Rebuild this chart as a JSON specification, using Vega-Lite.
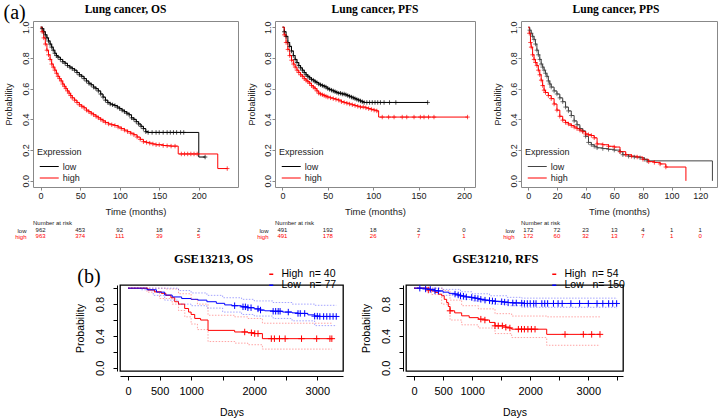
{
"$schema": "https://vega.github.io/schema/vega-lite/v6.json",
"background": "white",
"padding": {"left": 3, "top": 2, "right": 0, "bottom": 0},
"config": {
  "font": "Liberation Sans",
  "axis": {"grid": false, "labelFont": "Liberation Sans", "titleFont": "Liberation Sans", "titleFontWeight": "normal"},
  "legend": {"labelFont": "Liberation Sans", "titleFont": "Liberation Sans"},
  "title": {"font": "Liberation Serif", "fontWeight": "bold", "color": "black"},
  "text": {"font": "Liberation Sans"}
},
"datasets": {
  "os": [
    {"t":0,"p":1,"g":"low","c":0},{"t":2,"p":0.99,"g":"low","c":1},{"t":4,"p":0.97,"g":"low","c":1},{"t":6,"p":0.95,"g":"low","c":1},{"t":8,"p":0.93,"g":"low","c":1},{"t":10,"p":0.91,"g":"low","c":1},{"t":12,"p":0.89,"g":"low","c":1},{"t":14,"p":0.87,"g":"low","c":1},{"t":16,"p":0.85,"g":"low","c":1},{"t":18,"p":0.83,"g":"low","c":1},{"t":20,"p":0.815,"g":"low","c":1},{"t":22,"p":0.805,"g":"low","c":1},{"t":25,"p":0.79,"g":"low","c":1},{"t":28,"p":0.775,"g":"low","c":1},{"t":31,"p":0.765,"g":"low","c":1},{"t":34,"p":0.75,"g":"low","c":1},{"t":37,"p":0.74,"g":"low","c":1},{"t":40,"p":0.73,"g":"low","c":1},{"t":43,"p":0.72,"g":"low","c":1},{"t":46,"p":0.705,"g":"low","c":1},{"t":49,"p":0.69,"g":"low","c":1},{"t":52,"p":0.68,"g":"low","c":1},{"t":55,"p":0.665,"g":"low","c":1},{"t":58,"p":0.65,"g":"low","c":1},{"t":61,"p":0.635,"g":"low","c":1},{"t":64,"p":0.625,"g":"low","c":1},{"t":67,"p":0.61,"g":"low","c":1},{"t":70,"p":0.6,"g":"low","c":1},{"t":73,"p":0.585,"g":"low","c":1},{"t":76,"p":0.565,"g":"low","c":1},{"t":79,"p":0.545,"g":"low","c":1},{"t":82,"p":0.525,"g":"low","c":1},{"t":85,"p":0.51,"g":"low","c":1},{"t":88,"p":0.5,"g":"low","c":1},{"t":91,"p":0.495,"g":"low","c":1},{"t":94,"p":0.49,"g":"low","c":1},{"t":97,"p":0.48,"g":"low","c":1},{"t":100,"p":0.47,"g":"low","c":1},{"t":103,"p":0.46,"g":"low","c":1},{"t":106,"p":0.45,"g":"low","c":1},{"t":109,"p":0.44,"g":"low","c":1},{"t":112,"p":0.43,"g":"low","c":1},{"t":115,"p":0.41,"g":"low","c":1},{"t":118,"p":0.4,"g":"low","c":1},{"t":121,"p":0.385,"g":"low","c":1},{"t":124,"p":0.37,"g":"low","c":1},{"t":127,"p":0.355,"g":"low","c":1},{"t":130,"p":0.34,"g":"low","c":1},{"t":133,"p":0.32,"g":"low","c":1},{"t":136,"p":0.315,"g":"low","c":1},{"t":141,"p":0.315,"g":"low","c":1},{"t":146,"p":0.315,"g":"low","c":1},{"t":150,"p":0.315,"g":"low","c":1},{"t":155,"p":0.315,"g":"low","c":1},{"t":160,"p":0.315,"g":"low","c":1},{"t":164,"p":0.315,"g":"low","c":1},{"t":168,"p":0.315,"g":"low","c":1},{"t":172,"p":0.315,"g":"low","c":1},{"t":177,"p":0.315,"g":"low","c":1},{"t":181,"p":0.315,"g":"low","c":1},{"t":200,"p":0.155,"g":"low","c":0},{"t":208,"p":0.155,"g":"low","c":1},
    {"t":0,"p":1,"g":"high","c":0},{"t":2,"p":0.97,"g":"high","c":1},{"t":4,"p":0.93,"g":"high","c":1},{"t":6,"p":0.89,"g":"high","c":1},{"t":8,"p":0.85,"g":"high","c":1},{"t":10,"p":0.82,"g":"high","c":1},{"t":12,"p":0.79,"g":"high","c":1},{"t":14,"p":0.76,"g":"high","c":1},{"t":16,"p":0.74,"g":"high","c":1},{"t":18,"p":0.72,"g":"high","c":1},{"t":20,"p":0.7,"g":"high","c":1},{"t":22,"p":0.68,"g":"high","c":1},{"t":24,"p":0.665,"g":"high","c":1},{"t":26,"p":0.65,"g":"high","c":1},{"t":28,"p":0.63,"g":"high","c":1},{"t":30,"p":0.615,"g":"high","c":1},{"t":32,"p":0.6,"g":"high","c":1},{"t":34,"p":0.585,"g":"high","c":1},{"t":36,"p":0.57,"g":"high","c":1},{"t":38,"p":0.555,"g":"high","c":1},{"t":40,"p":0.54,"g":"high","c":1},{"t":43,"p":0.525,"g":"high","c":1},{"t":46,"p":0.51,"g":"high","c":1},{"t":49,"p":0.495,"g":"high","c":1},{"t":52,"p":0.485,"g":"high","c":1},{"t":55,"p":0.475,"g":"high","c":1},{"t":58,"p":0.46,"g":"high","c":1},{"t":61,"p":0.45,"g":"high","c":1},{"t":64,"p":0.44,"g":"high","c":1},{"t":67,"p":0.43,"g":"high","c":1},{"t":70,"p":0.42,"g":"high","c":1},{"t":73,"p":0.41,"g":"high","c":1},{"t":76,"p":0.4,"g":"high","c":1},{"t":79,"p":0.39,"g":"high","c":1},{"t":82,"p":0.38,"g":"high","c":1},{"t":86,"p":0.37,"g":"high","c":1},{"t":90,"p":0.365,"g":"high","c":1},{"t":94,"p":0.36,"g":"high","c":1},{"t":98,"p":0.35,"g":"high","c":1},{"t":102,"p":0.34,"g":"high","c":1},{"t":106,"p":0.33,"g":"high","c":1},{"t":110,"p":0.32,"g":"high","c":1},{"t":114,"p":0.31,"g":"high","c":1},{"t":118,"p":0.3,"g":"high","c":1},{"t":122,"p":0.285,"g":"high","c":1},{"t":126,"p":0.27,"g":"high","c":1},{"t":130,"p":0.255,"g":"high","c":1},{"t":134,"p":0.25,"g":"high","c":1},{"t":138,"p":0.245,"g":"high","c":1},{"t":142,"p":0.24,"g":"high","c":1},{"t":146,"p":0.235,"g":"high","c":1},{"t":150,"p":0.235,"g":"high","c":1},{"t":155,"p":0.23,"g":"high","c":1},{"t":160,"p":0.228,"g":"high","c":1},{"t":165,"p":0.226,"g":"high","c":1},{"t":170,"p":0.226,"g":"high","c":1},{"t":174,"p":0.175,"g":"high","c":0},{"t":178,"p":0.175,"g":"high","c":1},{"t":182,"p":0.175,"g":"high","c":1},{"t":186,"p":0.175,"g":"high","c":1},{"t":190,"p":0.175,"g":"high","c":1},{"t":194,"p":0.175,"g":"high","c":1},{"t":198,"p":0.175,"g":"high","c":1},{"t":224,"p":0.08,"g":"high","c":0},{"t":236,"p":0.08,"g":"high","c":1}
  ],
  "pfs": [
    {"t":0,"p":1,"g":"low","c":0},{"t":2,"p":0.97,"g":"low","c":1},{"t":4,"p":0.94,"g":"low","c":1},{"t":6,"p":0.9,"g":"low","c":1},{"t":8,"p":0.875,"g":"low","c":1},{"t":10,"p":0.845,"g":"low","c":1},{"t":12,"p":0.815,"g":"low","c":1},{"t":14,"p":0.79,"g":"low","c":1},{"t":16,"p":0.77,"g":"low","c":1},{"t":18,"p":0.75,"g":"low","c":1},{"t":20,"p":0.735,"g":"low","c":1},{"t":22,"p":0.72,"g":"low","c":1},{"t":24,"p":0.705,"g":"low","c":1},{"t":26,"p":0.69,"g":"low","c":1},{"t":28,"p":0.68,"g":"low","c":1},{"t":30,"p":0.67,"g":"low","c":1},{"t":32,"p":0.66,"g":"low","c":1},{"t":34,"p":0.655,"g":"low","c":1},{"t":36,"p":0.645,"g":"low","c":1},{"t":38,"p":0.64,"g":"low","c":1},{"t":40,"p":0.63,"g":"low","c":1},{"t":42,"p":0.625,"g":"low","c":1},{"t":44,"p":0.62,"g":"low","c":1},{"t":46,"p":0.615,"g":"low","c":1},{"t":48,"p":0.61,"g":"low","c":1},{"t":50,"p":0.6,"g":"low","c":1},{"t":52,"p":0.595,"g":"low","c":1},{"t":54,"p":0.59,"g":"low","c":1},{"t":56,"p":0.585,"g":"low","c":1},{"t":58,"p":0.58,"g":"low","c":1},{"t":60,"p":0.575,"g":"low","c":1},{"t":62,"p":0.57,"g":"low","c":1},{"t":64,"p":0.57,"g":"low","c":1},{"t":66,"p":0.565,"g":"low","c":1},{"t":68,"p":0.565,"g":"low","c":1},{"t":70,"p":0.56,"g":"low","c":1},{"t":72,"p":0.555,"g":"low","c":1},{"t":74,"p":0.55,"g":"low","c":1},{"t":76,"p":0.545,"g":"low","c":1},{"t":78,"p":0.54,"g":"low","c":1},{"t":80,"p":0.535,"g":"low","c":1},{"t":82,"p":0.53,"g":"low","c":1},{"t":84,"p":0.525,"g":"low","c":1},{"t":86,"p":0.52,"g":"low","c":1},{"t":88,"p":0.515,"g":"low","c":1},{"t":90,"p":0.51,"g":"low","c":1},{"t":93,"p":0.51,"g":"low","c":1},{"t":96,"p":0.51,"g":"low","c":1},{"t":99,"p":0.51,"g":"low","c":1},{"t":102,"p":0.51,"g":"low","c":1},{"t":105,"p":0.51,"g":"low","c":1},{"t":108,"p":0.51,"g":"low","c":1},{"t":112,"p":0.51,"g":"low","c":1},{"t":118,"p":0.51,"g":"low","c":1},{"t":125,"p":0.51,"g":"low","c":1},{"t":160,"p":0.51,"g":"low","c":1},
    {"t":0,"p":1,"g":"high","c":0},{"t":2,"p":0.95,"g":"high","c":1},{"t":4,"p":0.9,"g":"high","c":1},{"t":6,"p":0.855,"g":"high","c":1},{"t":8,"p":0.815,"g":"high","c":1},{"t":10,"p":0.785,"g":"high","c":1},{"t":12,"p":0.76,"g":"high","c":1},{"t":14,"p":0.74,"g":"high","c":1},{"t":16,"p":0.72,"g":"high","c":1},{"t":18,"p":0.705,"g":"high","c":1},{"t":20,"p":0.69,"g":"high","c":1},{"t":22,"p":0.68,"g":"high","c":1},{"t":24,"p":0.665,"g":"high","c":1},{"t":26,"p":0.655,"g":"high","c":1},{"t":28,"p":0.645,"g":"high","c":1},{"t":30,"p":0.635,"g":"high","c":1},{"t":32,"p":0.62,"g":"high","c":1},{"t":34,"p":0.61,"g":"high","c":1},{"t":36,"p":0.6,"g":"high","c":1},{"t":38,"p":0.585,"g":"high","c":1},{"t":40,"p":0.57,"g":"high","c":1},{"t":42,"p":0.565,"g":"high","c":1},{"t":44,"p":0.56,"g":"high","c":1},{"t":46,"p":0.555,"g":"high","c":1},{"t":48,"p":0.55,"g":"high","c":1},{"t":50,"p":0.545,"g":"high","c":1},{"t":53,"p":0.54,"g":"high","c":1},{"t":56,"p":0.535,"g":"high","c":1},{"t":59,"p":0.53,"g":"high","c":1},{"t":62,"p":0.525,"g":"high","c":1},{"t":65,"p":0.515,"g":"high","c":1},{"t":68,"p":0.51,"g":"high","c":1},{"t":71,"p":0.505,"g":"high","c":1},{"t":74,"p":0.5,"g":"high","c":1},{"t":77,"p":0.495,"g":"high","c":1},{"t":80,"p":0.49,"g":"high","c":1},{"t":83,"p":0.485,"g":"high","c":1},{"t":86,"p":0.48,"g":"high","c":1},{"t":89,"p":0.48,"g":"high","c":1},{"t":92,"p":0.475,"g":"high","c":1},{"t":95,"p":0.47,"g":"high","c":1},{"t":98,"p":0.465,"g":"high","c":1},{"t":101,"p":0.46,"g":"high","c":1},{"t":104,"p":0.455,"g":"high","c":1},{"t":106,"p":0.415,"g":"high","c":0},{"t":110,"p":0.415,"g":"high","c":1},{"t":117,"p":0.415,"g":"high","c":1},{"t":123,"p":0.415,"g":"high","c":1},{"t":132,"p":0.415,"g":"high","c":1},{"t":137,"p":0.415,"g":"high","c":1},{"t":145,"p":0.415,"g":"high","c":1},{"t":152,"p":0.415,"g":"high","c":1},{"t":156,"p":0.415,"g":"high","c":1},{"t":161,"p":0.415,"g":"high","c":1},{"t":167,"p":0.415,"g":"high","c":1},{"t":204,"p":0.415,"g":"high","c":1}
  ],
  "pps": [
    {"t":0,"p":1,"g":"low","c":0},{"t":1,"p":0.98,"g":"low","c":1},{"t":2,"p":0.96,"g":"low","c":1},{"t":3,"p":0.94,"g":"low","c":1},{"t":4,"p":0.92,"g":"low","c":1},{"t":5,"p":0.89,"g":"low","c":1},{"t":6,"p":0.85,"g":"low","c":1},{"t":7,"p":0.82,"g":"low","c":1},{"t":8,"p":0.79,"g":"low","c":1},{"t":9,"p":0.76,"g":"low","c":1},{"t":10,"p":0.74,"g":"low","c":1},{"t":11,"p":0.72,"g":"low","c":1},{"t":12,"p":0.7,"g":"low","c":1},{"t":13,"p":0.68,"g":"low","c":1},{"t":14,"p":0.65,"g":"low","c":1},{"t":15,"p":0.63,"g":"low","c":1},{"t":16,"p":0.61,"g":"low","c":1},{"t":18,"p":0.585,"g":"low","c":1},{"t":20,"p":0.565,"g":"low","c":1},{"t":22,"p":0.54,"g":"low","c":1},{"t":24,"p":0.515,"g":"low","c":1},{"t":26,"p":0.48,"g":"low","c":1},{"t":28,"p":0.455,"g":"low","c":1},{"t":30,"p":0.425,"g":"low","c":1},{"t":32,"p":0.39,"g":"low","c":1},{"t":34,"p":0.365,"g":"low","c":1},{"t":36,"p":0.34,"g":"low","c":1},{"t":38,"p":0.325,"g":"low","c":1},{"t":40,"p":0.29,"g":"low","c":1},{"t":42,"p":0.25,"g":"low","c":1},{"t":44,"p":0.235,"g":"low","c":1},{"t":46,"p":0.225,"g":"low","c":1},{"t":48,"p":0.215,"g":"low","c":1},{"t":52,"p":0.21,"g":"low","c":1},{"t":56,"p":0.205,"g":"low","c":1},{"t":60,"p":0.2,"g":"low","c":1},{"t":64,"p":0.19,"g":"low","c":1},{"t":66,"p":0.17,"g":"low","c":1},{"t":70,"p":0.16,"g":"low","c":1},{"t":74,"p":0.155,"g":"low","c":1},{"t":78,"p":0.15,"g":"low","c":1},{"t":81,"p":0.14,"g":"low","c":1},{"t":83,"p":0.13,"g":"low","c":1},{"t":128.5,"p":0,"g":"low","c":0},
    {"t":0,"p":1,"g":"high","c":0},{"t":0.7,"p":0.96,"g":"high","c":1},{"t":1.5,"p":0.9,"g":"high","c":1},{"t":2,"p":0.87,"g":"high","c":1},{"t":3,"p":0.82,"g":"high","c":1},{"t":4,"p":0.79,"g":"high","c":1},{"t":5,"p":0.77,"g":"high","c":1},{"t":6,"p":0.75,"g":"high","c":1},{"t":7,"p":0.72,"g":"high","c":1},{"t":8,"p":0.69,"g":"high","c":1},{"t":9,"p":0.655,"g":"high","c":1},{"t":10,"p":0.62,"g":"high","c":1},{"t":11,"p":0.59,"g":"high","c":1},{"t":12,"p":0.575,"g":"high","c":1},{"t":14,"p":0.555,"g":"high","c":1},{"t":16,"p":0.535,"g":"high","c":1},{"t":18,"p":0.5,"g":"high","c":1},{"t":20,"p":0.46,"g":"high","c":1},{"t":22,"p":0.42,"g":"high","c":1},{"t":24,"p":0.395,"g":"high","c":1},{"t":26,"p":0.38,"g":"high","c":1},{"t":28,"p":0.37,"g":"high","c":1},{"t":30,"p":0.36,"g":"high","c":1},{"t":32,"p":0.35,"g":"high","c":1},{"t":34,"p":0.34,"g":"high","c":1},{"t":36,"p":0.33,"g":"high","c":1},{"t":38,"p":0.32,"g":"high","c":1},{"t":40,"p":0.305,"g":"high","c":1},{"t":42,"p":0.3,"g":"high","c":1},{"t":44,"p":0.295,"g":"high","c":1},{"t":46,"p":0.28,"g":"high","c":1},{"t":48,"p":0.24,"g":"high","c":1},{"t":52,"p":0.235,"g":"high","c":1},{"t":56,"p":0.225,"g":"high","c":1},{"t":60,"p":0.22,"g":"high","c":1},{"t":64,"p":0.19,"g":"high","c":1},{"t":68,"p":0.17,"g":"high","c":1},{"t":72,"p":0.16,"g":"high","c":1},{"t":76,"p":0.155,"g":"high","c":1},{"t":80,"p":0.14,"g":"high","c":1},{"t":84,"p":0.125,"g":"high","c":1},{"t":88,"p":0.12,"g":"high","c":1},{"t":92,"p":0.11,"g":"high","c":1},{"t":96,"p":0.09,"g":"high","c":1},{"t":110,"p":0,"g":"high","c":0}
  ],
  "risk_os": [
    {"t":0,"g":"low","n":"962"},{"t":50,"g":"low","n":"453"},{"t":100,"g":"low","n":"92"},{"t":150,"g":"low","n":"18"},{"t":200,"g":"low","n":"2"},
    {"t":0,"g":"high","n":"963"},{"t":50,"g":"high","n":"374"},{"t":100,"g":"high","n":"111"},{"t":150,"g":"high","n":"39"},{"t":200,"g":"high","n":"5"}
  ],
  "risk_pfs": [
    {"t":0,"g":"low","n":"491"},{"t":50,"g":"low","n":"192"},{"t":100,"g":"low","n":"18"},{"t":150,"g":"low","n":"2"},{"t":200,"g":"low","n":"0"},
    {"t":0,"g":"high","n":"491"},{"t":50,"g":"high","n":"178"},{"t":100,"g":"high","n":"26"},{"t":150,"g":"high","n":"7"},{"t":200,"g":"high","n":"1"}
  ],
  "risk_pps": [
    {"t":0,"g":"low","n":"172"},{"t":20,"g":"low","n":"72"},{"t":40,"g":"low","n":"23"},{"t":60,"g":"low","n":"13"},{"t":80,"g":"low","n":"4"},{"t":100,"g":"low","n":"1"},{"t":120,"g":"low","n":"1"},
    {"t":0,"g":"high","n":"172"},{"t":20,"g":"high","n":"60"},{"t":40,"g":"high","n":"32"},{"t":60,"g":"high","n":"13"},{"t":80,"g":"high","n":"7"},{"t":100,"g":"high","n":"1"},{"t":120,"g":"high","n":"0"}
  ],
  "g13": [
    {"t":0,"p":1,"g":"High","k":"est","c":0},{"t":200,"p":1,"g":"High","k":"est","c":0},{"t":317,"p":0.977,"g":"High","k":"est","c":0},{"t":420,"p":0.955,"g":"High","k":"est","c":0},{"t":528,"p":0.935,"g":"High","k":"est","c":0},{"t":600,"p":0.91,"g":"High","k":"est","c":0},{"t":680,"p":0.88,"g":"High","k":"est","c":0},{"t":740,"p":0.83,"g":"High","k":"est","c":0},{"t":800,"p":0.8,"g":"High","k":"est","c":0},{"t":898,"p":0.745,"g":"High","k":"est","c":0},{"t":960,"p":0.7,"g":"High","k":"est","c":0},{"t":1000,"p":0.67,"g":"High","k":"est","c":0},{"t":1057,"p":0.62,"g":"High","k":"est","c":0},{"t":1150,"p":0.6,"g":"High","k":"est","c":0},{"t":1268,"p":0.47,"g":"High","k":"est","c":0},{"t":1690,"p":0.45,"g":"High","k":"est","c":0},{"t":1849,"p":0.45,"g":"High","k":"est","c":1},{"t":1900,"p":0.44,"g":"High","k":"est","c":0},{"t":1955,"p":0.44,"g":"High","k":"est","c":1},{"t":2008,"p":0.43,"g":"High","k":"est","c":1},{"t":2060,"p":0.43,"g":"High","k":"est","c":1},{"t":2130,"p":0.366,"g":"High","k":"est","c":0},{"t":2271,"p":0.366,"g":"High","k":"est","c":1},{"t":2320,"p":0.366,"g":"High","k":"est","c":1},{"t":2400,"p":0.366,"g":"High","k":"est","c":1},{"t":2490,"p":0.366,"g":"High","k":"est","c":1},{"t":2750,"p":0.366,"g":"High","k":"est","c":1},{"t":2990,"p":0.366,"g":"High","k":"est","c":1},{"t":3200,"p":0.366,"g":"High","k":"est","c":1},{"t":3230,"p":0.366,"g":"High","k":"est","c":1},
    {"t":0,"p":1,"g":"Low","k":"est","c":0},{"t":200,"p":1,"g":"Low","k":"est","c":0},{"t":300,"p":0.98,"g":"Low","k":"est","c":0},{"t":450,"p":0.95,"g":"Low","k":"est","c":0},{"t":581,"p":0.914,"g":"Low","k":"est","c":0},{"t":700,"p":0.89,"g":"Low","k":"est","c":0},{"t":850,"p":0.87,"g":"Low","k":"est","c":0},{"t":1000,"p":0.86,"g":"Low","k":"est","c":0},{"t":1109,"p":0.85,"g":"Low","k":"est","c":0},{"t":1250,"p":0.83,"g":"Low","k":"est","c":0},{"t":1400,"p":0.81,"g":"Low","k":"est","c":0},{"t":1532,"p":0.79,"g":"Low","k":"est","c":0},{"t":1650,"p":0.78,"g":"Low","k":"est","c":0},{"t":1690,"p":0.78,"g":"Low","k":"est","c":1},{"t":1796,"p":0.766,"g":"Low","k":"est","c":0},{"t":1822,"p":0.766,"g":"Low","k":"est","c":1},{"t":1860,"p":0.766,"g":"Low","k":"est","c":1},{"t":1900,"p":0.755,"g":"Low","k":"est","c":1},{"t":1950,"p":0.755,"g":"Low","k":"est","c":1},{"t":2000,"p":0.74,"g":"Low","k":"est","c":0},{"t":2060,"p":0.74,"g":"Low","k":"est","c":1},{"t":2100,"p":0.725,"g":"Low","k":"est","c":1},{"t":2166,"p":0.716,"g":"Low","k":"est","c":0},{"t":2300,"p":0.71,"g":"Low","k":"est","c":1},{"t":2340,"p":0.71,"g":"Low","k":"est","c":1},{"t":2380,"p":0.71,"g":"Low","k":"est","c":1},{"t":2410,"p":0.71,"g":"Low","k":"est","c":1},{"t":2450,"p":0.7,"g":"Low","k":"est","c":0},{"t":2540,"p":0.7,"g":"Low","k":"est","c":1},{"t":2600,"p":0.69,"g":"Low","k":"est","c":0},{"t":2694,"p":0.683,"g":"Low","k":"est","c":1},{"t":2730,"p":0.683,"g":"Low","k":"est","c":1},{"t":2800,"p":0.683,"g":"Low","k":"est","c":1},{"t":2850,"p":0.665,"g":"Low","k":"est","c":0},{"t":2958,"p":0.649,"g":"Low","k":"est","c":1},{"t":3000,"p":0.649,"g":"Low","k":"est","c":1},{"t":3040,"p":0.645,"g":"Low","k":"est","c":1},{"t":3100,"p":0.645,"g":"Low","k":"est","c":1},{"t":3150,"p":0.645,"g":"Low","k":"est","c":1},{"t":3200,"p":0.645,"g":"Low","k":"est","c":1},{"t":3250,"p":0.645,"g":"Low","k":"est","c":1},{"t":3300,"p":0.645,"g":"Low","k":"est","c":1},
    {"t":0,"p":1,"g":"High","k":"up","c":0},{"t":400,"p":1,"g":"High","k":"up","c":0},{"t":600,"p":0.99,"g":"High","k":"up","c":0},{"t":800,"p":0.93,"g":"High","k":"up","c":0},{"t":1000,"p":0.86,"g":"High","k":"up","c":0},{"t":1100,"p":0.8,"g":"High","k":"up","c":0},{"t":1268,"p":0.66,"g":"High","k":"up","c":0},{"t":1690,"p":0.64,"g":"High","k":"up","c":0},{"t":1900,"p":0.62,"g":"High","k":"up","c":0},{"t":2130,"p":0.56,"g":"High","k":"up","c":0},{"t":3230,"p":0.56,"g":"High","k":"up","c":0},
    {"t":0,"p":1,"g":"High","k":"lo","c":0},{"t":300,"p":0.95,"g":"High","k":"lo","c":0},{"t":500,"p":0.87,"g":"High","k":"lo","c":0},{"t":700,"p":0.8,"g":"High","k":"lo","c":0},{"t":800,"p":0.72,"g":"High","k":"lo","c":0},{"t":900,"p":0.64,"g":"High","k":"lo","c":0},{"t":1000,"p":0.55,"g":"High","k":"lo","c":0},{"t":1100,"p":0.48,"g":"High","k":"lo","c":0},{"t":1268,"p":0.33,"g":"High","k":"lo","c":0},{"t":1690,"p":0.31,"g":"High","k":"lo","c":0},{"t":1900,"p":0.29,"g":"High","k":"lo","c":0},{"t":2130,"p":0.235,"g":"High","k":"lo","c":0},{"t":3230,"p":0.235,"g":"High","k":"lo","c":0},
    {"t":0,"p":1,"g":"Low","k":"up","c":0},{"t":500,"p":1,"g":"Low","k":"up","c":0},{"t":800,"p":0.97,"g":"Low","k":"up","c":0},{"t":1000,"p":0.94,"g":"Low","k":"up","c":0},{"t":1250,"p":0.91,"g":"Low","k":"up","c":0},{"t":1500,"p":0.88,"g":"Low","k":"up","c":0},{"t":1800,"p":0.86,"g":"Low","k":"up","c":0},{"t":2000,"p":0.84,"g":"Low","k":"up","c":0},{"t":2300,"p":0.82,"g":"Low","k":"up","c":0},{"t":2600,"p":0.8,"g":"Low","k":"up","c":0},{"t":2958,"p":0.785,"g":"Low","k":"up","c":0},{"t":3300,"p":0.785,"g":"Low","k":"up","c":0},
    {"t":0,"p":1,"g":"Low","k":"lo","c":0},{"t":200,"p":0.98,"g":"Low","k":"lo","c":0},{"t":400,"p":0.91,"g":"Low","k":"lo","c":0},{"t":581,"p":0.85,"g":"Low","k":"lo","c":0},{"t":800,"p":0.8,"g":"Low","k":"lo","c":0},{"t":1000,"p":0.78,"g":"Low","k":"lo","c":0},{"t":1250,"p":0.75,"g":"Low","k":"lo","c":0},{"t":1500,"p":0.7,"g":"Low","k":"lo","c":0},{"t":1800,"p":0.67,"g":"Low","k":"lo","c":0},{"t":2000,"p":0.65,"g":"Low","k":"lo","c":0},{"t":2300,"p":0.62,"g":"Low","k":"lo","c":0},{"t":2600,"p":0.59,"g":"Low","k":"lo","c":0},{"t":2958,"p":0.53,"g":"Low","k":"lo","c":0},{"t":3300,"p":0.525,"g":"Low","k":"lo","c":0}
  ],
  "g31": [
    {"t":0,"p":1,"g":"High","k":"est","c":0},{"t":150,"p":1,"g":"High","k":"est","c":0},{"t":246,"p":0.977,"g":"High","k":"est","c":1},{"t":300,"p":0.965,"g":"High","k":"est","c":0},{"t":361,"p":0.947,"g":"High","k":"est","c":0},{"t":420,"p":0.925,"g":"High","k":"est","c":0},{"t":476,"p":0.905,"g":"High","k":"est","c":0},{"t":520,"p":0.86,"g":"High","k":"est","c":0},{"t":562,"p":0.82,"g":"High","k":"est","c":0},{"t":590,"p":0.77,"g":"High","k":"est","c":0},{"t":620,"p":0.716,"g":"High","k":"est","c":1},{"t":700,"p":0.69,"g":"High","k":"est","c":0},{"t":820,"p":0.653,"g":"High","k":"est","c":0},{"t":950,"p":0.63,"g":"High","k":"est","c":0},{"t":1107,"p":0.611,"g":"High","k":"est","c":0},{"t":1150,"p":0.611,"g":"High","k":"est","c":1},{"t":1220,"p":0.6,"g":"High","k":"est","c":1},{"t":1300,"p":0.57,"g":"High","k":"est","c":0},{"t":1394,"p":0.527,"g":"High","k":"est","c":1},{"t":1450,"p":0.527,"g":"High","k":"est","c":1},{"t":1520,"p":0.527,"g":"High","k":"est","c":1},{"t":1580,"p":0.51,"g":"High","k":"est","c":1},{"t":1650,"p":0.5,"g":"High","k":"est","c":1},{"t":1681,"p":0.485,"g":"High","k":"est","c":0},{"t":1796,"p":0.485,"g":"High","k":"est","c":1},{"t":1850,"p":0.485,"g":"High","k":"est","c":1},{"t":1900,"p":0.485,"g":"High","k":"est","c":1},{"t":1960,"p":0.485,"g":"High","k":"est","c":1},{"t":2020,"p":0.485,"g":"High","k":"est","c":1},{"t":2083,"p":0.485,"g":"High","k":"est","c":1},{"t":2284,"p":0.42,"g":"High","k":"est","c":0},{"t":2599,"p":0.42,"g":"High","k":"est","c":1},{"t":2914,"p":0.42,"g":"High","k":"est","c":1},{"t":3058,"p":0.42,"g":"High","k":"est","c":1},{"t":3201,"p":0.42,"g":"High","k":"est","c":1},
    {"t":0,"p":1,"g":"Low","k":"est","c":0},{"t":100,"p":1,"g":"Low","k":"est","c":1},{"t":200,"p":0.99,"g":"Low","k":"est","c":1},{"t":280,"p":0.985,"g":"Low","k":"est","c":1},{"t":361,"p":0.968,"g":"Low","k":"est","c":1},{"t":420,"p":0.965,"g":"Low","k":"est","c":1},{"t":500,"p":0.95,"g":"Low","k":"est","c":0},{"t":600,"p":0.935,"g":"Low","k":"est","c":0},{"t":706,"p":0.926,"g":"Low","k":"est","c":1},{"t":760,"p":0.915,"g":"Low","k":"est","c":1},{"t":800,"p":0.905,"g":"Low","k":"est","c":1},{"t":850,"p":0.9,"g":"Low","k":"est","c":1},{"t":900,"p":0.89,"g":"Low","k":"est","c":1},{"t":993,"p":0.884,"g":"Low","k":"est","c":1},{"t":1050,"p":0.875,"g":"Low","k":"est","c":1},{"t":1100,"p":0.87,"g":"Low","k":"est","c":1},{"t":1150,"p":0.86,"g":"Low","k":"est","c":1},{"t":1222,"p":0.85,"g":"Low","k":"est","c":1},{"t":1300,"p":0.845,"g":"Low","k":"est","c":1},{"t":1350,"p":0.84,"g":"Low","k":"est","c":1},{"t":1400,"p":0.835,"g":"Low","k":"est","c":1},{"t":1509,"p":0.83,"g":"Low","k":"est","c":1},{"t":1560,"p":0.825,"g":"Low","k":"est","c":1},{"t":1620,"p":0.82,"g":"Low","k":"est","c":1},{"t":1700,"p":0.815,"g":"Low","k":"est","c":1},{"t":1760,"p":0.815,"g":"Low","k":"est","c":1},{"t":1854,"p":0.813,"g":"Low","k":"est","c":1},{"t":1900,"p":0.808,"g":"Low","k":"est","c":1},{"t":1950,"p":0.808,"g":"Low","k":"est","c":1},{"t":2000,"p":0.808,"g":"Low","k":"est","c":1},{"t":2060,"p":0.808,"g":"Low","k":"est","c":1},{"t":2100,"p":0.808,"g":"Low","k":"est","c":1},{"t":2200,"p":0.808,"g":"Low","k":"est","c":1},{"t":2250,"p":0.808,"g":"Low","k":"est","c":1},{"t":2300,"p":0.808,"g":"Low","k":"est","c":1},{"t":2400,"p":0.808,"g":"Low","k":"est","c":1},{"t":2480,"p":0.808,"g":"Low","k":"est","c":1},{"t":2550,"p":0.808,"g":"Low","k":"est","c":1},{"t":2700,"p":0.808,"g":"Low","k":"est","c":1},{"t":2850,"p":0.808,"g":"Low","k":"est","c":1},{"t":3000,"p":0.808,"g":"Low","k":"est","c":1},{"t":3150,"p":0.808,"g":"Low","k":"est","c":1},{"t":3250,"p":0.808,"g":"Low","k":"est","c":1},{"t":3350,"p":0.808,"g":"Low","k":"est","c":1},{"t":3420,"p":0.808,"g":"Low","k":"est","c":1},{"t":3488,"p":0.808,"g":"Low","k":"est","c":1},
    {"t":0,"p":1,"g":"High","k":"up","c":0},{"t":300,"p":1,"g":"High","k":"up","c":0},{"t":500,"p":0.97,"g":"High","k":"up","c":0},{"t":620,"p":0.85,"g":"High","k":"up","c":0},{"t":820,"p":0.78,"g":"High","k":"up","c":0},{"t":1107,"p":0.74,"g":"High","k":"up","c":0},{"t":1394,"p":0.68,"g":"High","k":"up","c":0},{"t":1681,"p":0.65,"g":"High","k":"up","c":0},{"t":2284,"p":0.64,"g":"High","k":"up","c":0},{"t":3201,"p":0.64,"g":"High","k":"up","c":0},
    {"t":0,"p":1,"g":"High","k":"lo","c":0},{"t":300,"p":0.92,"g":"High","k":"lo","c":0},{"t":476,"p":0.8,"g":"High","k":"lo","c":0},{"t":620,"p":0.6,"g":"High","k":"lo","c":0},{"t":820,"p":0.54,"g":"High","k":"lo","c":0},{"t":1107,"p":0.5,"g":"High","k":"lo","c":0},{"t":1394,"p":0.43,"g":"High","k":"lo","c":0},{"t":1681,"p":0.38,"g":"High","k":"lo","c":0},{"t":2284,"p":0.283,"g":"High","k":"lo","c":0},{"t":3201,"p":0.283,"g":"High","k":"lo","c":0},
    {"t":0,"p":1,"g":"Low","k":"up","c":0},{"t":500,"p":0.985,"g":"Low","k":"up","c":0},{"t":800,"p":0.955,"g":"Low","k":"up","c":0},{"t":1000,"p":0.93,"g":"Low","k":"up","c":0},{"t":1300,"p":0.905,"g":"Low","k":"up","c":0},{"t":1600,"p":0.885,"g":"Low","k":"up","c":0},{"t":1854,"p":0.875,"g":"Low","k":"up","c":0},{"t":3488,"p":0.868,"g":"Low","k":"up","c":0},
    {"t":0,"p":1,"g":"Low","k":"lo","c":0},{"t":200,"p":0.97,"g":"Low","k":"lo","c":0},{"t":500,"p":0.91,"g":"Low","k":"lo","c":0},{"t":800,"p":0.86,"g":"Low","k":"lo","c":0},{"t":1000,"p":0.84,"g":"Low","k":"lo","c":0},{"t":1300,"p":0.8,"g":"Low","k":"lo","c":0},{"t":1600,"p":0.78,"g":"Low","k":"lo","c":0},{"t":1854,"p":0.76,"g":"Low","k":"lo","c":0},{"t":3488,"p":0.748,"g":"Low","k":"lo","c":0}
  ]
},
"resolve": {"scale": {"color": "independent"}, "legend": {"color": "independent"}},
"spacing": 12,
"vconcat": [
  {
    "title": {"text": "(a)", "anchor": "start", "frame": "bounds", "font": "Liberation Serif", "fontWeight": "normal", "fontSize": 20, "offset": -19},
    "resolve": {"scale": {"color": "independent"}, "legend": {"color": "independent"}},
    "spacing": 7,
    "hconcat": [
      {
        "spacing": 4,
        "resolve": {"scale": {"color": "independent"}, "legend": {"color": "independent"}},
        "vconcat": [
          {
            "width": 205, "height": 166,
            "view": {"stroke": "#888", "strokeWidth": 1},
            "title": {"text": "Lung cancer, OS", "fontSize": 11.5, "offset": 5, "dx": -10},
            "data": {"name": "os"},
            "encoding": {
              "x": {"field": "t", "type": "quantitative", "scale": {"domain": [-9.6, 249.6], "nice": false, "zero": false},
                "axis": {"values": [0, 50, 100, 150, 200], "title": "Time (months)", "domain": false, "tickSize": 3, "tickColor": "#888", "labelFontSize": 9, "labelPadding": 1, "labelColor": "#222", "titleFontSize": 9.5, "titlePadding": 6, "titleColor": "#222"}},
              "y": {"field": "p", "type": "quantitative", "scale": {"domain": [-0.04, 1.04], "nice": false, "zero": false},
                "axis": {"values": [0, 0.2, 0.4, 0.6, 0.8, 1], "format": ".1f", "title": "Probability", "domain": false, "tickSize": 3, "tickColor": "#888", "labelAngle": -90, "labelAlign": "center", "labelBaseline": "bottom", "labelFontSize": 9, "labelPadding": 0, "labelColor": "#222", "titleFontSize": 9, "titlePadding": 8, "titleColor": "#222"}},
              "color": {"field": "g", "type": "nominal", "scale": {"domain": ["low", "high"], "range": ["black", "red"]},
                "legend": {"title": "Expression", "orient": "bottom-left", "offset": 4, "padding": 0, "symbolType": "M-2,0H2", "symbolSize": 90, "symbolStrokeWidth": 1, "symbolOffset": 6.75, "titleFontSize": 9, "titleFontWeight": "normal", "labelFontSize": 9, "titlePadding": 4, "rowPadding": 0.5, "labelOffset": 8, "titleColor": "#222", "labelColor": "#222"}}
            },
            "layer": [
              {"mark": {"type": "line", "interpolate": "step-after", "strokeWidth": 1}},
              {"transform": [{"filter": "datum.c == 1"}], "mark": {"type": "point", "shape": "M-1,0H1M0,-1V1", "size": 20, "strokeWidth": 0.7, "filled": false, "opacity": 1}},
              {"data": {"values": [{"s": "HR = 1.51 (1.33 − 1.71)\nlogrank P = 2.1e−10"}]}, "mark": {"type": "text", "align": "right", "baseline": "top", "lineBreak": "\n", "lineHeight": 10, "fontSize": 9, "dx": -8, "dy": 4, "color": "#222"},
                "encoding": {"x": {"datum": 249.6}, "y": {"datum": 1.04}, "text": {"field": "s"}, "color": {"value": "#222"}}}
            ]
          },
          {
            "width": 205, "height": 12,
            "view": {"stroke": null},
            "title": {"text": "Number at risk", "font": "Liberation Sans", "fontWeight": "normal", "fontSize": 6, "anchor": "start", "frame": "group", "offset": 1, "color": "#222"},
            "data": {"name": "risk_os"},
            "mark": {"type": "text", "fontSize": 6},
            "encoding": {
              "x": {"field": "t", "type": "quantitative", "scale": {"domain": [-9.6, 249.6], "nice": false, "zero": false}, "axis": null},
              "y": {"field": "g", "type": "nominal", "scale": {"domain": ["low", "high"]}, "axis": {"title": null, "domain": false, "ticks": false, "labelFontSize": 6, "labelPadding": 7, "labelColor": {"condition": {"test": "datum.value == 'high'", "value": "red"}, "value": "#222"}}},
              "text": {"field": "n"},
              "color": {"field": "g", "type": "nominal", "scale": {"domain": ["low", "high"], "range": ["#222", "red"]}, "legend": null}
            }
          }
        ]
      },
      {
        "spacing": 16,
        "resolve": {"scale": {"color": "independent"}, "legend": {"color": "independent"}},
        "hconcat": [
          {
            "spacing": 4,
            "resolve": {"scale": {"color": "independent"}, "legend": {"color": "independent"}},
            "vconcat": [
              {
                "width": 200, "height": 166,
                "view": {"stroke": "#888", "strokeWidth": 1},
                "title": {"text": "Lung cancer,  PFS", "fontSize": 11.5, "offset": 5},
                "data": {"name": "pfs"},
                "encoding": {
                  "x": {"field": "t", "type": "quantitative", "scale": {"domain": [-8.2, 212.2], "nice": false, "zero": false},
                    "axis": {"values": [0, 50, 100, 150, 200], "title": "Time (months)", "domain": false, "tickSize": 3, "tickColor": "#888", "labelFontSize": 9, "labelPadding": 1, "labelColor": "#222", "titleFontSize": 9.5, "titlePadding": 6, "titleColor": "#222"}},
                  "y": {"field": "p", "type": "quantitative", "scale": {"domain": [-0.04, 1.04], "nice": false, "zero": false},
                    "axis": {"values": [0, 0.2, 0.4, 0.6, 0.8, 1], "format": ".1f", "title": "Probability", "domain": false, "tickSize": 3, "tickColor": "#888", "labelAngle": -90, "labelAlign": "center", "labelBaseline": "bottom", "labelFontSize": 9, "labelPadding": 0, "labelColor": "#222", "titleFontSize": 9, "titlePadding": 7, "titleColor": "#222"}},
                  "color": {"field": "g", "type": "nominal", "scale": {"domain": ["low", "high"], "range": ["black", "red"]},
                    "legend": {"title": "Expression", "orient": "bottom-left", "offset": 4, "padding": 0, "symbolType": "M-2,0H2", "symbolSize": 90, "symbolStrokeWidth": 1, "symbolOffset": 6.75, "titleFontSize": 9, "titleFontWeight": "normal", "labelFontSize": 9, "titlePadding": 4, "rowPadding": 0.5, "labelOffset": 8, "titleColor": "#222", "labelColor": "#222"}}
                },
                "layer": [
                  {"mark": {"type": "line", "interpolate": "step-after", "strokeWidth": 1}},
                  {"transform": [{"filter": "datum.c == 1"}], "mark": {"type": "point", "shape": "M-1,0H1M0,-1V1", "size": 20, "strokeWidth": 0.7, "filled": false, "opacity": 1}},
                  {"data": {"values": [{"s": "HR = 1.23 (1.01 − 1.48)\nlogrank P = 0.037"}]}, "mark": {"type": "text", "align": "right", "baseline": "top", "lineBreak": "\n", "lineHeight": 10, "fontSize": 9, "dx": -5, "dy": 4, "color": "#222"},
                    "encoding": {"x": {"datum": 212.2}, "y": {"datum": 1.04}, "text": {"field": "s"}, "color": {"value": "#222"}}}
                ]
              },
              {
                "width": 200, "height": 12,
                "view": {"stroke": null},
                "title": {"text": "Number at risk", "font": "Liberation Sans", "fontWeight": "normal", "fontSize": 6, "anchor": "start", "frame": "group", "offset": 1, "color": "#222"},
                "data": {"name": "risk_pfs"},
                "mark": {"type": "text", "fontSize": 6},
                "encoding": {
                  "x": {"field": "t", "type": "quantitative", "scale": {"domain": [-8.2, 212.2], "nice": false, "zero": false}, "axis": null},
                  "y": {"field": "g", "type": "nominal", "scale": {"domain": ["low", "high"]}, "axis": {"title": null, "domain": false, "ticks": false, "labelFontSize": 6, "labelPadding": 7, "labelColor": {"condition": {"test": "datum.value == 'high'", "value": "red"}, "value": "#222"}}},
                  "text": {"field": "n"},
                  "color": {"field": "g", "type": "nominal", "scale": {"domain": ["low", "high"], "range": ["#222", "red"]}, "legend": null}
                }
              }
            ]
          },
          {
            "spacing": 4,
            "resolve": {"scale": {"color": "independent"}, "legend": {"color": "independent"}},
            "vconcat": [
              {
                "width": 196, "height": 166,
                "view": {"stroke": "#888", "strokeWidth": 1},
                "title": {"text": "Lung cancer,  PPS", "fontSize": 11.5, "offset": 5, "dx": -3},
                "data": {"name": "pps"},
                "encoding": {
                  "x": {"field": "t", "type": "quantitative", "scale": {"domain": [-5.1, 131.7], "nice": false, "zero": false},
                    "axis": {"values": [0, 20, 40, 60, 80, 100, 120], "title": "Time (months)", "domain": false, "tickSize": 3, "tickColor": "#888", "labelFontSize": 9, "labelPadding": 1, "labelColor": "#222", "titleFontSize": 9.5, "titlePadding": 6, "titleColor": "#222"}},
                  "y": {"field": "p", "type": "quantitative", "scale": {"domain": [-0.04, 1.04], "nice": false, "zero": false},
                    "axis": {"values": [0, 0.2, 0.4, 0.6, 0.8, 1], "format": ".1f", "title": "Probability", "domain": false, "tickSize": 3, "tickColor": "#888", "labelAngle": -90, "labelAlign": "center", "labelBaseline": "bottom", "labelFontSize": 9, "labelPadding": 0, "labelColor": "#222", "titleFontSize": 9, "titlePadding": 7, "titleColor": "#222"}},
                  "color": {"field": "g", "type": "nominal", "scale": {"domain": ["low", "high"], "range": ["#444", "red"]},
                    "legend": {"title": "Expression", "orient": "bottom-left", "offset": 4, "padding": 0, "symbolType": "M-2,0H2", "symbolSize": 90, "symbolStrokeWidth": 1, "symbolOffset": 6.75, "titleFontSize": 9, "titleFontWeight": "normal", "labelFontSize": 9, "titlePadding": 4, "rowPadding": 0.5, "labelOffset": 8, "titleColor": "#222", "labelColor": "#222"}}
                },
                "layer": [
                  {"mark": {"type": "line", "interpolate": "step-after", "strokeWidth": 1}},
                  {"transform": [{"filter": "datum.c == 1"}], "mark": {"type": "point", "shape": "M-1,0H1M0,-1V1", "size": 20, "strokeWidth": 0.7, "filled": false, "opacity": 1}},
                  {"data": {"values": [{"s": "HR = 1.18 (0.92 − 1.52)\nlogrank P = 0.19"}]}, "mark": {"type": "text", "align": "right", "baseline": "top", "lineBreak": "\n", "lineHeight": 10, "fontSize": 9, "dx": -6, "dy": 4, "color": "#222"},
                    "encoding": {"x": {"datum": 131.7}, "y": {"datum": 1.04}, "text": {"field": "s"}, "color": {"value": "#222"}}}
                ]
              },
              {
                "width": 196, "height": 12,
                "view": {"stroke": null},
                "title": {"text": "Number at risk", "font": "Liberation Sans", "fontWeight": "normal", "fontSize": 6, "anchor": "start", "frame": "group", "offset": 1, "color": "#222"},
                "data": {"name": "risk_pps"},
                "mark": {"type": "text", "fontSize": 6},
                "encoding": {
                  "x": {"field": "t", "type": "quantitative", "scale": {"domain": [-5.1, 131.7], "nice": false, "zero": false}, "axis": null},
                  "y": {"field": "g", "type": "nominal", "scale": {"domain": ["low", "high"]}, "axis": {"title": null, "domain": false, "ticks": false, "labelFontSize": 6, "labelPadding": 7, "labelColor": {"condition": {"test": "datum.value == 'high'", "value": "red"}, "value": "#222"}}},
                  "text": {"field": "n"},
                  "color": {"field": "g", "type": "nominal", "scale": {"domain": ["low", "high"], "range": ["#222", "red"]}, "legend": null}
                }
              }
            ]
          }
        ]
      }
    ]
  },
  {
    "spacing": 0,
    "resolve": {"scale": {"color": "independent"}, "legend": {"color": "independent"}},
    "hconcat": [
      {
        "width": 41, "height": 86,
        "view": {"stroke": null},
        "data": {"values": []},
        "mark": {"type": "text"},
        "encoding": {}
      },
      {
        "title": {"text": "(b)", "anchor": "start", "frame": "bounds", "font": "Liberation Serif", "fontWeight": "normal", "fontSize": 20, "offset": -35, "dx": 3},
        "resolve": {"scale": {"color": "independent"}, "legend": {"color": "independent"}},
        "spacing": 16,
        "hconcat": [
          {
            "width": 223, "height": 86,
            "view": {"stroke": "black", "strokeWidth": 1.3},
            "title": {"text": "GSE13213, OS", "fontSize": 12.5, "offset": 4, "dx": -18},
            "data": {"name": "g13"},
            "encoding": {
              "x": {"field": "t", "type": "quantitative", "scale": {"domain": [-127, 3407], "nice": false, "zero": false},
                "axis": {"values": [0, 500, 1000, 1500, 2000, 2500, 3000], "format": "d", "labelExpr": "datum.value == 1500 || datum.value == 2500 ? '' : datum.label", "title": "Days", "offset": 5, "domainColor": "black", "tickColor": "black", "tickSize": 4, "labelFontSize": 11, "labelPadding": 5, "labelColor": "black", "titleFontSize": 10.5, "titlePadding": 11, "titleColor": "black"}},
              "y": {"field": "p", "type": "quantitative", "scale": {"domain": [-0.04, 1.04], "nice": false, "zero": false},
                "axis": {"values": [0, 0.2, 0.4, 0.6, 0.8, 1], "format": ".1f", "labelExpr": "abs(datum.value - 0.2) < 0.01 || abs(datum.value - 0.6) < 0.01 || abs(datum.value - 1) < 0.01 ? '' : datum.label", "title": "Probability", "offset": 3, "domainColor": "black", "tickColor": "black", "tickSize": 4, "labelAngle": -90, "labelAlign": "center", "labelBaseline": "bottom", "labelFontSize": 11, "labelPadding": 8, "labelColor": "black", "titleFontSize": 10.5, "titlePadding": 9, "titleColor": "black"}},
              "color": {"field": "g", "type": "nominal", "scale": {"domain": ["High", "Low"], "range": ["red", "blue"]},
                "legend": {"title": null, "orient": "none", "legendX": 146, "legendY": -16, "direction": "vertical", "padding": 0, "symbolType": "stroke", "symbolSize": 16, "symbolStrokeWidth": 1.5, "symbolDash": [100, 0], "symbolOpacity": 1, "labelFontSize": 10.5, "labelOffset": 5, "rowPadding": -1.5, "labelColor": "black",
                  "labelExpr": "datum.label == 'High' ? 'High\u00a0\u00a0n= 40' : 'Low\u00a0\u00a0\u00a0n= 77'"}}
            },
            "layer": [
              {"transform": [{"filter": "datum.k == 'est'"}], "mark": {"type": "line", "interpolate": "step-after", "strokeWidth": 1}},
              {"transform": [{"filter": "datum.k != 'est'"}], "mark": {"type": "line", "interpolate": "step-after", "strokeWidth": 0.8, "strokeDash": [1.5, 1.5], "opacity": 0.45}, "encoding": {"detail": {"field": "k"}}},
              {"transform": [{"filter": "datum.c == 1"}], "mark": {"type": "point", "shape": "M-1,0H1M0,-1V1", "size": 42, "strokeWidth": 1, "filled": false, "opacity": 1}}
            ]
          },
          {
            "width": 217, "height": 86,
            "view": {"stroke": "black", "strokeWidth": 1.3},
            "title": {"text": "GSE31210, RFS", "fontSize": 12.5, "offset": 4, "dx": -19},
            "data": {"name": "g31"},
            "encoding": {
              "x": {"field": "t", "type": "quantitative", "scale": {"domain": [-138, 3597], "nice": false, "zero": false},
                "axis": {"values": [0, 500, 1000, 1500, 2000, 2500, 3000, 3500], "format": "d", "labelExpr": "datum.value == 1500 || datum.value == 2500 || datum.value == 3500 ? '' : datum.label", "title": "Days", "offset": 5, "domainColor": "black", "tickColor": "black", "tickSize": 4, "labelFontSize": 11, "labelPadding": 5, "labelColor": "black", "titleFontSize": 10.5, "titlePadding": 11, "titleColor": "black"}},
              "y": {"field": "p", "type": "quantitative", "scale": {"domain": [-0.04, 1.04], "nice": false, "zero": false},
                "axis": {"values": [0, 0.2, 0.4, 0.6, 0.8, 1], "format": ".1f", "labelExpr": "abs(datum.value - 0.2) < 0.01 || abs(datum.value - 0.6) < 0.01 || abs(datum.value - 1) < 0.01 ? '' : datum.label", "title": "Probability", "offset": 3, "domainColor": "black", "tickColor": "black", "tickSize": 4, "labelAngle": -90, "labelAlign": "center", "labelBaseline": "bottom", "labelFontSize": 11, "labelPadding": 8, "labelColor": "black", "titleFontSize": 10.5, "titlePadding": 9, "titleColor": "black"}},
              "color": {"field": "g", "type": "nominal", "scale": {"domain": ["High", "Low"], "range": ["red", "blue"]},
                "legend": {"title": null, "orient": "none", "legendX": 143, "legendY": -16, "direction": "vertical", "padding": 0, "symbolType": "stroke", "symbolSize": 16, "symbolStrokeWidth": 1.5, "symbolDash": [100, 0], "symbolOpacity": 1, "labelFontSize": 10.5, "labelOffset": 5, "rowPadding": -1.5, "labelColor": "black",
                  "labelExpr": "datum.label == 'High' ? 'High\u00a0\u00a0n= 54' : 'Low\u00a0\u00a0\u00a0n= 150'"}}
            },
            "layer": [
              {"transform": [{"filter": "datum.k == 'est'"}], "mark": {"type": "line", "interpolate": "step-after", "strokeWidth": 1}},
              {"transform": [{"filter": "datum.k != 'est'"}], "mark": {"type": "line", "interpolate": "step-after", "strokeWidth": 0.8, "strokeDash": [1.5, 1.5], "opacity": 0.45}, "encoding": {"detail": {"field": "k"}}},
              {"transform": [{"filter": "datum.c == 1"}], "mark": {"type": "point", "shape": "M-1,0H1M0,-1V1", "size": 42, "strokeWidth": 1, "filled": false, "opacity": 1}}
            ]
          }
        ]
      }
    ]
  }
]
}
